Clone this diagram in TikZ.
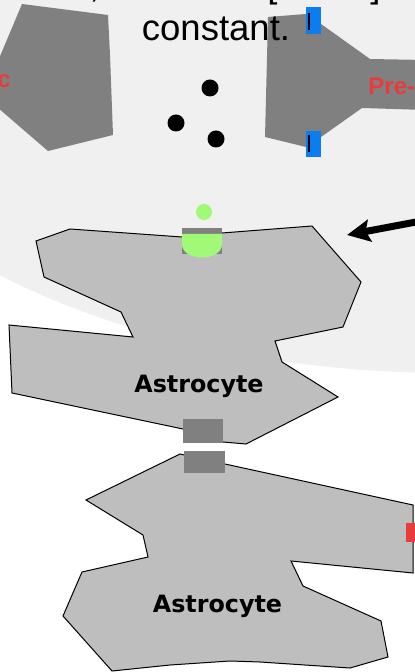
\documentclass[tikz,border=0pt]{standalone}
\usepackage{fontspec}
\setmainfont{Liberation Sans}
\newfontfamily\cellfont{DejaVu Sans}
\usetikzlibrary{arrows.meta}
\definecolor{slidegrey}{RGB}{240,240,240}
\definecolor{cellgrey}{RGB}{190,190,190}
\definecolor{termgrey}{RGB}{128,128,128}
\definecolor{glugreen}{RGB}{160,250,120}
\definecolor{chanblue}{RGB}{10,125,240}
\definecolor{labelred}{RGB}{232,60,60}

\begin{document}
\begin{tikzpicture}[x=0.5pt,y=-0.5pt,
	astro cell/.style={draw=black,line width=0.5pt,fill=cellgrey},
	terminal/.style={fill=termgrey},
	big text/.style={font=\fontsize{18.25}{22}\selectfont,inner sep=0pt},
	cell label/.style={font=\cellfont\bfseries\fontsize{11.9}{14}\selectfont,inner sep=0pt,anchor=base},
	red label/.style={font=\bfseries\fontsize{12}{14}\selectfont,text=labelred,inner sep=0pt,anchor=base west}]
	
	\useasboundingbox (0,0) rectangle (415,672);
	\clip (0,0) rectangle (415,672);
	\fill[white] (0,0) rectangle (415,672);
	\fill[slidegrey] (450,0) ellipse [x radius=667, y radius=373];
	
	\fill[terminal] (22,4) -- (108,15) -- (110,55) -- (113,135) -- (48,151) -- (-10,101) -- (-10,80) -- cycle;
	\node[red label,anchor=base east] (postlabel) at (11,88) {c};
	
	\fill[terminal] (268,17) -- (306,14) -- (321,24) -- (370,59) -- (425,60) -- (425,110) -- (362,108)
		-- (321,137) -- (306,147) -- (265,137) -- (266,97) -- cycle;
	\fill[chanblue] (306,7) rectangle (321,34);
	\fill[chanblue] (306,131) rectangle (321,157);
	\draw[line width=1.2pt] (309,13) -- (309,30) (309,135) -- (309,152);
	\node[red label] (prelabel) at (368,95) {Pre-};
	
	\node[big text,anchor=base west] (comma) at (89,-2) {,};
	\node[big text,anchor=base west] (lbrack) at (267,-2) {[};
	\node[big text,anchor=base west] (rbrack) at (370,-2) {]};
	\node[big text,anchor=base] (const) at (216,41) {constant.};
	
	\foreach \p in {(210,88),(176,123),(216,139)}
		\fill \p circle[radius=4.25pt];
	
	\draw[astro cell] (36,241) -- (70,229) -- (182,237) -- (222,233) -- (312,226) -- (361,282) -- (343,327)
		-- (275,341) -- (282,362) -- (338,397) -- (246,444) -- (223,442) -- (183,429) -- (12,393)
		-- (9,325) -- (133,337) -- (121,312) -- (44,277) -- cycle;
	\draw[astro cell] (180,454) -- (86,500) -- (143,535) -- (148,557) -- (82,572) -- (63,616) -- (112,671)
		-- (170,665) -- (230,661) -- (260,662) -- (350,668) -- (388,657) -- (381,621) -- (303,586)
		-- (291,561) -- (413,573) -- (413,505) -- (225,464) -- cycle;
	\node[cell label] (astroup) at (199,392) {Astrocyte};
	\node[cell label] (astrodown) at (217.5,612) {Astrocyte};
	
	\fill[terminal] (182,228) rectangle (222,254);
	\fill[glugreen] (182,234) -- (182,244) .. controls (182,262) and (222,262) .. (222,244) -- (222,234) -- cycle;
	\fill[glugreen] (204,212) circle[radius=4pt];
	\fill[terminal] (183,419) rectangle (223,443);
	\fill[terminal] (184,451) rectangle (225,473);
	\fill[labelred] (406,523) rectangle (416,542);
	
	\coordinate (arrowfrom) at (425,220.3);
	\coordinate (arrowto) at (347,235);
	\draw[-{Stealth[length=11.5pt,width=11pt,inset=2pt]},line width=3.5pt] (arrowfrom) -- (arrowto);
\end{tikzpicture}
\end{document}
